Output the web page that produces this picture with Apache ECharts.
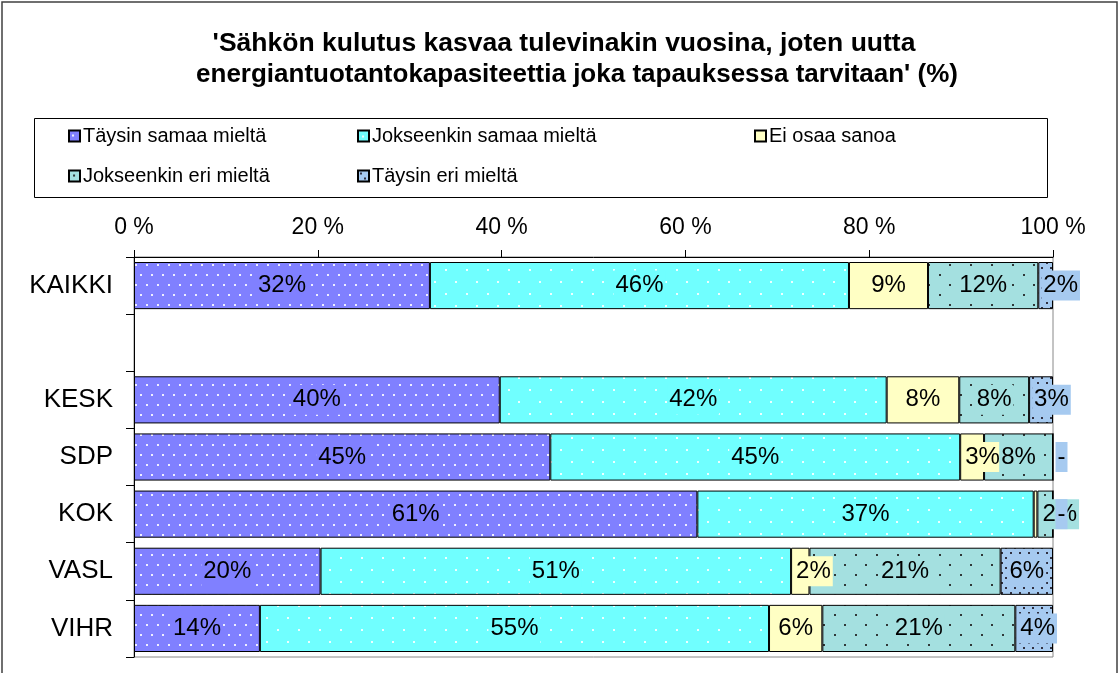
<!DOCTYPE html>
<html>
<head>
<meta charset="utf-8">
<script src="https://cdn.jsdelivr.net/npm/echarts@6/dist/echarts.min.js"></script>
<style>
html,body{margin:0;padding:0;background:#fff;}
#chart{width:1120px;height:673px;}
</style>
</head>
<body>
<div id="chart"></div>
<script>
// ---- data (percent shares) ----
const categories = ['KAIKKI', '', 'KESK', 'SDP', 'KOK', 'VASL', 'VIHR'];
const seriesNames = ['Täysin samaa mieltä', 'Jokseenkin samaa mieltä', 'Ei osaa sanoa', 'Jokseenkin eri mieltä', 'Täysin eri mieltä'];
const taysinSamaa     = [32.2, null, 39.8, 45.3, 61.3, 20.3, 13.7];
const jokseenkinSamaa = [45.6, null, 42.1, 44.6, 36.6, 51.2, 55.4];
const eiOsaa          = [8.6,  null, 7.9,  2.6,  0.4,  2.0,  5.8];
const jokseenkinEri   = [12.0, null, 7.6,  7.5,  1.7,  20.8, 21.0];
const taysinEri       = [1.6,  null, 2.6,  0,    0,    5.7,  4.1];
const axisMin = 0, axisMax = 100, axisStep = 20;
const titleLines = ["'Sähkön kulutus kasvaa tulevinakin vuosina, joten uutta", "energiantuotantokapasiteettia joka tapauksessa tarvitaan' (%)"];

const FONT = 'Liberation Sans, Arial, sans-serif';

function makePattern(bg, dotColor, w, h, dots, ds) {
  const c = document.createElement('canvas');
  c.width = w; c.height = h;
  const ctx = c.getContext('2d');
  ctx.fillStyle = bg; ctx.fillRect(0, 0, w, h);
  ctx.fillStyle = dotColor;
  dots.forEach(d => ctx.fillRect(d[0], d[1], ds, ds));
  return { image: c, repeat: 'repeat' };
}

const solidColors = ['#8080FF', '#70FFFF', '#FFFFC4', '#A4E0E0', '#A6CAF0'];
const fills = [
  makePattern('#8080FF', '#EEEEFF', 11, 20, [[3, 4], [8, 14]], 2),
  makePattern('#70FFFF', '#EEFFFF', 21, 24, [[4, 5], [14, 17]], 2),
  '#FFFFC4',
  makePattern('#A4E0E0', '#303838', 21, 20, [[4, 4], [15, 14]], 2),
  makePattern('#A6CAF0', '#303040', 9, 10, [[2, 2], [6, 7]], 2)
];
const seriesData = [taysinSamaa, jokseenkinSamaa, eiOsaa, jokseenkinEri, taysinEri];

const series = seriesData.map((arr, si) => ({
  name: seriesNames[si],
  type: 'bar',
  stack: 'total',
  barCategoryGap: '17.5%',
  itemStyle: { color: fills[si], borderColor: '#000', borderWidth: 1 },
  data: arr.map(v => {
    if (v === null) return null;
    const r = Math.round(v);
    const hide = v > 0 && r === 0;
    return {
      value: v,
      label: {
        show: !hide,
        position: v < 4.5 ? 'insideLeft' : 'inside',
        distance: 3
      }
    };
  }),
  label: {
    show: true,
    fontFamily: FONT,
    fontSize: 24,
    color: '#000',
    backgroundColor: solidColors[si],
    padding: [3, 2],
    formatter: p => (p.value === 0 ? '-' : Math.round(p.value) + '%')
  }
}));

const legendPos = [[68, 126], [357, 126], [754, 126], [68, 166], [357, 166]];
const legends = seriesNames.map((n, i) => ({
  data: [n],
  left: legendPos[i][0],
  top: legendPos[i][1],
  padding: 0,
  itemWidth: 11,
  itemHeight: 11,
  itemGap: 0,
  icon: 'rect',
  textStyle: { fontFamily: FONT, fontSize: 20, color: '#000', padding: [0, 0, 0, -2] },
  selectedMode: false
}));

const chart = echarts.init(document.getElementById('chart'), null, { renderer: 'canvas' });
chart.setOption({
  animation: false,
  backgroundColor: '#fff',
  graphic: [
    { type: 'rect', shape: { x: 2, y: 2, width: 1115, height: 700 }, style: { fill: 'none', stroke: '#404040', lineWidth: 1.5 }, silent: true },
    { type: 'rect', shape: { x: 34.5, y: 118.5, width: 1013, height: 79 }, style: { fill: 'none', stroke: '#000', lineWidth: 1 }, silent: true },
    { type: 'text', x: 564, y: 44, style: { text: titleLines[0], fontFamily: FONT, fontSize: 26.5, fontWeight: 'bold', fill: '#000', align: 'center', verticalAlign: 'middle' } },
    { type: 'text', x: 577, y: 75, style: { text: titleLines[1], fontFamily: FONT, fontSize: 26, fontWeight: 'bold', fill: '#000', align: 'center', verticalAlign: 'middle' } }
  ],
  legend: legends,
  grid: { left: 134, right: 67, top: 257, bottom: 16, show: true, borderColor: '#888', borderWidth: 1, backgroundColor: 'transparent' },
  xAxis: {
    type: 'value', position: 'top', min: axisMin, max: axisMax, interval: axisStep,
    axisLine: { show: true, lineStyle: { color: '#000', width: 1 } },
    axisTick: { show: true, inside: false, length: 7, lineStyle: { color: '#000' } },
    splitLine: { show: false },
    axisLabel: { formatter: '{value} %', fontFamily: FONT, fontSize: 23, color: '#000', margin: 18 }
  },
  yAxis: {
    type: 'category', inverse: true, data: categories,
    axisLine: { show: true, lineStyle: { color: '#000', width: 1 } },
    axisTick: { show: true, length: 8, lineStyle: { color: '#000' } },
    axisLabel: { fontFamily: FONT, fontSize: 26, color: '#000', margin: 21 }
  },
  series: series
});
</script>
</body>
</html>
